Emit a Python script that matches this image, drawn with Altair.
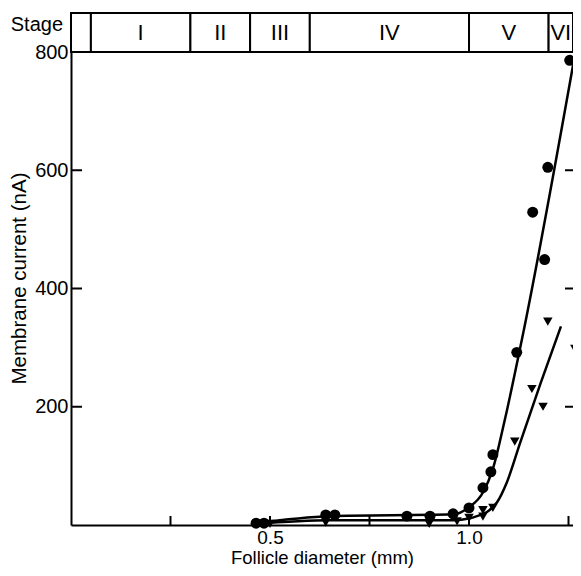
import altair as alt
import pandas as pd

# ---- data ----
circle_x = [0.465, 0.485, 0.64, 0.663, 0.844, 0.902, 0.96, 1.0, 1.035, 1.055, 1.06, 1.12, 1.16, 1.19, 1.198, 1.253, 1.27]
circle_y = [3, 3, 17, 17, 15, 15, 19, 29, 63, 90, 119, 292, 529, 449, 605, 786, 786]

tri_x = [0.48, 0.5, 0.64, 0.9, 0.97, 1.0, 1.035, 1.035, 1.06, 1.115, 1.158, 1.186, 1.198, 1.266, 1.27]
tri_y = [2, 2, 4, 2, 6, 12, 14, 25, 29, 141, 230, 200, 344, 298, 795]

circle_fit_x = [0.46, 0.65, 0.96, 1.0, 1.035, 1.06, 1.09, 1.133, 1.266]
circle_fit_y = [3, 15, 18, 30, 55, 95, 178, 314, 795]

tri_fit_x = [0.46, 0.65, 0.96, 1.0, 1.02, 1.045, 1.07, 1.095, 1.128, 1.18, 1.231]
tri_fit_y = [2, 8, 8, 11, 15, 22, 38, 72, 138, 240, 336]

stage_start = [0.0, 0.05, 0.3, 0.45, 0.6, 1.0, 1.2]
stage_end = [0.05, 0.3, 0.45, 0.6, 1.0, 1.2, 1.2613]
stage_labels = ["", "I", "II", "III", "IV", "V", "VI"]

x_tick_values = [0.25, 0.5, 0.75, 1.0, 1.25]
x_label_values = [0.5, 1.0]
y_tick_values = [200, 400, 600, 800]
right_tick_values = [200, 400, 600]

W, H = 502, 473
FONT = "Liberation Sans"

xs = alt.Scale(domain=[0, 1.2613], nice=False, zero=False)
ys = alt.Scale(domain=[0, 800], nice=False)

xaxis = alt.Axis(values=x_label_values, format=".1f", ticks=False, grid=False,
                 domainColor="black", domainWidth=2, labelFontSize=19, labelColor="black",
                 labelPadding=3, labelFont=FONT, title="Follicle diameter (mm)",
                 titleFont=FONT, titleFontSize=18.5, titleFontWeight="normal",
                 titleColor="black", titleBaseline="alphabetic", titleY=38)
yaxis = alt.Axis(values=y_tick_values, ticks=False, grid=False,
                 domainColor="black", domainWidth=2, labelFontSize=20, labelColor="black",
                 labelPadding=3, labelFont=FONT, title="Membrane current (nA)",
                 titleFont=FONT, titleFontSize=20.5, titleFontWeight="normal",
                 titleColor="black", titlePadding=5, titleY=226)

X = lambda f: alt.X(f + ":Q", scale=xs, axis=xaxis)
Y = lambda f: alt.Y(f + ":Q", scale=ys, axis=yaxis)

circ = pd.DataFrame({"x": circle_x, "y": circle_y})
tri = pd.DataFrame({"x": tri_x, "y": tri_y})
cfit = pd.DataFrame({"x": circle_fit_x, "y": circle_fit_y})
tfit = pd.DataFrame({"x": tri_fit_x, "y": tri_fit_y})
stages = pd.DataFrame({"x": stage_start, "x_end": stage_end, "label": stage_labels})
stages["mid"] = (stages["x"] + stages["x_end"]) / 2
xt = pd.DataFrame({"x": x_tick_values})
yt = pd.DataFrame({"y": y_tick_values})
rt = pd.DataFrame({"y": right_tick_values})

line_c = alt.Chart(cfit).mark_line(color="black", strokeWidth=2.5, interpolate="monotone").encode(x=X("x"), y=Y("y"))
line_t = alt.Chart(tfit).mark_line(color="black", strokeWidth=2.5, interpolate="monotone").encode(x=X("x"), y=Y("y"))
pts_c = alt.Chart(circ).mark_point(shape="circle", filled=True, color="black", size=120, opacity=1).encode(x=X("x"), y=Y("y"))
pts_t = alt.Chart(tri).mark_point(shape="triangle-down", filled=True, color="black", size=90, opacity=1).encode(x=X("x"), y=Y("y"))

xticks = alt.Chart(xt).mark_rule(color="black", strokeWidth=2).encode(
    x=X("x"), y=alt.value(H), y2=alt.value(H - 9))
yticks = alt.Chart(yt).mark_rule(color="black", strokeWidth=2).encode(
    y=Y("y"), x=alt.value(0), x2=alt.value(11))
rticks = alt.Chart(rt).mark_rule(color="black", strokeWidth=2).encode(
    y=Y("y"), x=alt.value(W - 8), x2=alt.value(W))

stage_box = alt.Chart(stages).mark_rect(fill="white", stroke="black", strokeWidth=2).encode(
    x=X("x"), x2="x_end:Q", y=alt.value(-39), y2=alt.value(0))
stage_txt = alt.Chart(stages).mark_text(font=FONT, fontSize=22, color="black", baseline="middle").encode(
    x=alt.X("mid:Q", scale=xs, axis=xaxis), y=alt.value(-19), text="label:N")
stage_title = alt.Chart(pd.DataFrame({"t": ["Stage"]})).mark_text(
    font=FONT, fontSize=20, color="black", align="right", baseline="middle").encode(
    x=alt.value(-8), y=alt.value(-27), text="t:N")

chart = alt.layer(
    line_c, line_t, pts_c, pts_t, xticks, yticks, rticks, stage_box, stage_txt, stage_title
).properties(
    width=W, height=H,
    padding={"left": 63, "top": 44, "right": 0, "bottom": 43},
    autosize=alt.AutoSizeParams(type="none"),
    background="white",
).configure_view(stroke=None)

chart.save("out.html", embed_options={"renderer": "svg", "actions": False})
